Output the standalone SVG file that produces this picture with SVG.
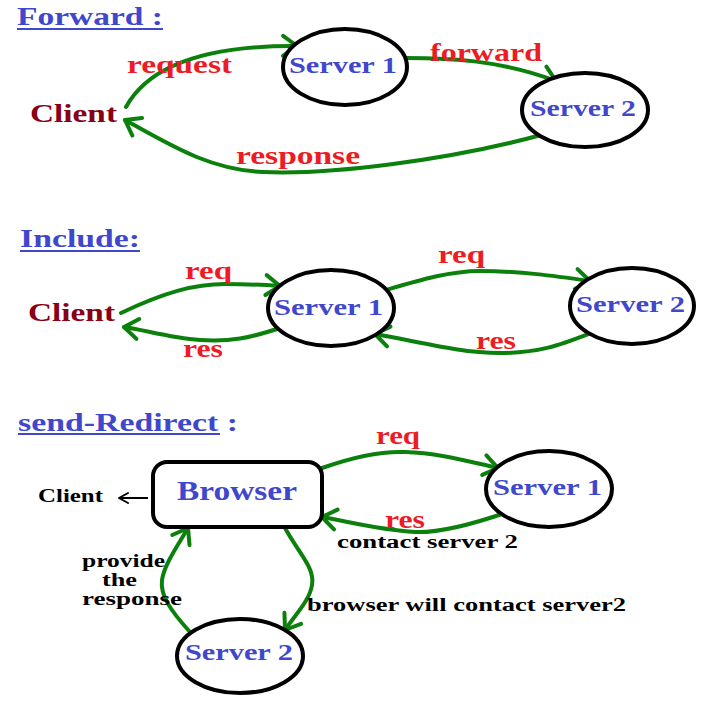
<svg xmlns="http://www.w3.org/2000/svg" width="706" height="701" viewBox="0 0 706 701">
<style>
text{font-family:"Liberation Serif","Times New Roman",serif;font-weight:700}
.t{fill:#3f48cc;font-size:25px}
.b{fill:#3f48cc;font-size:24px}
.r{fill:#ed1c24;font-size:25px}
.c{fill:#880015;font-size:26px}
.k{fill:#000;font-size:18px}
.n{fill:#fff;stroke:#000;stroke-width:4}
.e{fill:none;stroke:#0c800c;stroke-width:4;stroke-linecap:round;marker-end:url(#ah)}
.ul{stroke:#3f48cc;stroke-width:2}
</style>
<defs>
<marker id="ah" viewBox="-20 -14 26 28" markerWidth="26" markerHeight="28" refX="0" refY="0" orient="auto" markerUnits="userSpaceOnUse">
<path d="M-14,-10 L0,0 L-14,10" fill="none" stroke="#0c800c" stroke-width="4" stroke-linecap="round" stroke-linejoin="round"/>
</marker>
<marker id="ak" viewBox="-14 -8 18 16" markerWidth="18" markerHeight="16" refX="0" refY="0" orient="auto" markerUnits="userSpaceOnUse">
<path d="M-9,-5 L0,0 L-9,5" fill="none" stroke="#000" stroke-width="2" stroke-linecap="round" stroke-linejoin="round"/>
</marker>
</defs>
<rect width="706" height="701" fill="#fff"/>

<g id="titles">
<text class="t" x="17" y="25" textLength="146" lengthAdjust="spacingAndGlyphs">Forward :</text>
<line class="ul" x1="17" y1="29" x2="163" y2="29"/>
<text class="t" x="20" y="247" textLength="120" lengthAdjust="spacingAndGlyphs">Include:</text>
<line class="ul" x1="20" y1="251" x2="140" y2="251"/>
<text class="t" x="18" y="431" textLength="220" lengthAdjust="spacingAndGlyphs">send-Redirect :</text>
<line class="ul" x1="18" y1="434" x2="220" y2="434"/>
</g>

<g id="connectors">
<path class="e" d="M126,107 Q160,45 297,46"/>
<path class="e" d="M406,58 C450,58 500,60 556,81"/>
<path class="e" d="M541,135 C450,160 330,175 263,172 C210,170 170,145 125,120"/>
<path class="e" d="M121,313 C165,292 195,284 225,284 C250,284 265,285 280,286"/>
<path class="e" d="M280,328 C250,338 230,342 200,340 C170,338 145,330 124,327"/>
<path class="e" d="M386,290 C420,280 450,271 480,271 C520,271 555,276 590,281"/>
<path class="e" d="M591,333 C560,345 540,353 500,353 C460,353 420,342 375,334"/>
<path class="e" d="M322,468 C350,458 380,451 405,452 C440,453 470,462 498,468"/>
<path class="e" d="M505,513 C470,525 440,533 415,532 C380,530 350,522 322,517"/>
<path class="e" d="M285,528 C300,555 315,568 312,585 C310,600 295,615 285,630"/>
<path class="e" d="M190,632 C170,610 160,595 162,580 C164,565 178,545 188,528"/>
<path d="M148,498 L119,498" fill="none" stroke="#000" stroke-width="2" marker-end="url(#ak)"/>
</g>

<g id="labels">
<text class="r" x="127" y="73" textLength="105" lengthAdjust="spacingAndGlyphs">request</text>
<text class="r" x="430" y="61" textLength="112" lengthAdjust="spacingAndGlyphs">forward</text>
<text class="r" x="236" y="164" textLength="124" lengthAdjust="spacingAndGlyphs">response</text>
<text class="r" x="185" y="279" textLength="47" lengthAdjust="spacingAndGlyphs">req</text>
<text class="r" x="183" y="357" textLength="40" lengthAdjust="spacingAndGlyphs">res</text>
<text class="r" x="438" y="263" textLength="47" lengthAdjust="spacingAndGlyphs">req</text>
<text class="r" x="476" y="349" textLength="40" lengthAdjust="spacingAndGlyphs">res</text>
<text class="r" x="376" y="444" textLength="44" lengthAdjust="spacingAndGlyphs">req</text>
<text class="r" x="385" y="528" textLength="40" lengthAdjust="spacingAndGlyphs">res</text>
<text class="k" x="337" y="548" textLength="181" lengthAdjust="spacingAndGlyphs">contact server 2</text>
<text class="k" x="307" y="611" textLength="319" lengthAdjust="spacingAndGlyphs">browser will contact server2</text>
<text class="k" x="82" y="567" textLength="83" lengthAdjust="spacingAndGlyphs">provide</text>
<text class="k" x="102" y="586" textLength="35" lengthAdjust="spacingAndGlyphs">the</text>
<text class="k" x="82" y="605" textLength="100" lengthAdjust="spacingAndGlyphs">response</text>
</g>

<g id="fwd-client"><text class="c" x="30" y="122" textLength="87" lengthAdjust="spacingAndGlyphs">Client</text></g>
<g id="fwd-server1"><ellipse class="n" cx="345" cy="67" rx="62" ry="38"/><text class="b" x="289" y="73" textLength="108" lengthAdjust="spacingAndGlyphs">Server 1</text></g>
<g id="fwd-server2"><ellipse class="n" cx="585" cy="110" rx="63" ry="37"/><text class="b" x="530" y="116" textLength="106" lengthAdjust="spacingAndGlyphs">Server 2</text></g>

<g id="inc-client"><text class="c" x="28" y="321" textLength="87" lengthAdjust="spacingAndGlyphs">Client</text></g>
<g id="inc-server1"><ellipse class="n" cx="331" cy="308" rx="63" ry="38"/><text class="b" x="274" y="315" textLength="109" lengthAdjust="spacingAndGlyphs">Server 1</text></g>
<g id="inc-server2"><ellipse class="n" cx="632" cy="306" rx="62" ry="38"/><text class="b" x="576" y="312" textLength="109" lengthAdjust="spacingAndGlyphs">Server 2</text></g>

<g id="red-client"><text class="k" x="38" y="502" textLength="65" lengthAdjust="spacingAndGlyphs">Client</text></g>
<g id="red-browser"><rect class="n" x="153" y="462" width="169" height="65" rx="14"/><text class="t" style="font-size:27px" x="177" y="500" textLength="120" lengthAdjust="spacingAndGlyphs">Browser</text></g>
<g id="red-server1"><ellipse class="n" cx="549" cy="489" rx="63" ry="38"/><text class="b" x="493" y="495" textLength="109" lengthAdjust="spacingAndGlyphs">Server 1</text></g>
<g id="red-server2"><ellipse class="n" cx="240" cy="656" rx="63" ry="37"/><text class="b" x="185" y="660" textLength="108" lengthAdjust="spacingAndGlyphs">Server 2</text></g>
</svg>
